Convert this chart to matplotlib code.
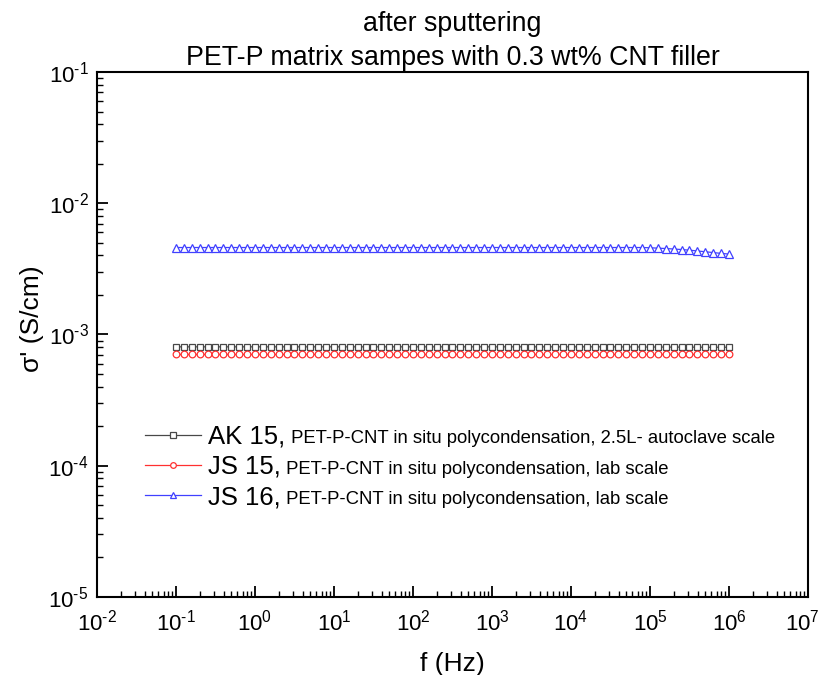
import numpy as np
import matplotlib
matplotlib.use("Agg")
import matplotlib.pyplot as plt
from matplotlib.ticker import LogLocator, FixedLocator, FuncFormatter, NullFormatter
from matplotlib.transforms import ScaledTranslation

plt.rcParams["font.family"] = ["Liberation Sans", "DejaVu Sans"]
plt.rcParams["mathtext.fontset"] = "custom"
plt.rcParams["mathtext.rm"] = "Liberation Sans"
plt.rcParams["mathtext.it"] = "Liberation Sans:italic"
plt.rcParams["mathtext.bf"] = "Liberation Sans:bold"

# measurement frequencies (Hz), 10 points per decade
freq = [
    0.1, 0.126, 0.158, 0.2, 0.251, 0.316, 0.398, 0.501, 0.631, 0.794,
    1.0, 1.26, 1.58, 2.0, 2.51, 3.16, 3.98, 5.01, 6.31, 7.94,
    10.0, 12.6, 15.8, 20.0, 25.1, 31.6, 39.8, 50.1, 63.1, 79.4,
    100.0, 126.0, 158.0, 200.0, 251.0, 316.0, 398.0, 501.0, 631.0, 794.0,
    1e3, 1.26e3, 1.58e3, 2.0e3, 2.51e3, 3.16e3, 3.98e3, 5.01e3, 6.31e3, 7.94e3,
    1e4, 1.26e4, 1.58e4, 2.0e4, 2.51e4, 3.16e4, 3.98e4, 5.01e4, 6.31e4, 7.94e4,
    1e5, 1.26e5, 1.58e5, 2.0e5, 2.51e5, 3.16e5, 3.98e5, 5.01e5, 6.31e5, 7.94e5,
    1e6,
]

# real part of conductivity (S/cm)
sigma_ak15 = [
    8.05e-4, 8.05e-4, 8.05e-4, 8.05e-4, 8.05e-4, 8.05e-4, 8.05e-4, 8.05e-4, 8.05e-4, 8.05e-4,
    8.05e-4, 8.05e-4, 8.05e-4, 8.05e-4, 8.05e-4, 8.05e-4, 8.05e-4, 8.05e-4, 8.05e-4, 8.05e-4,
    8.05e-4, 8.05e-4, 8.05e-4, 8.05e-4, 8.05e-4, 8.05e-4, 8.05e-4, 8.05e-4, 8.05e-4, 8.05e-4,
    8.05e-4, 8.05e-4, 8.05e-4, 8.05e-4, 8.05e-4, 8.05e-4, 8.05e-4, 8.05e-4, 8.05e-4, 8.05e-4,
    8.05e-4, 8.05e-4, 8.05e-4, 8.05e-4, 8.05e-4, 8.05e-4, 8.05e-4, 8.05e-4, 8.05e-4, 8.05e-4,
    8.05e-4, 8.05e-4, 8.05e-4, 8.05e-4, 8.05e-4, 8.05e-4, 8.04e-4, 8.04e-4, 8.04e-4, 8.03e-4,
    8.03e-4, 8.03e-4, 8.02e-4, 8.02e-4, 8.02e-4, 8.01e-4, 8.01e-4, 8.0e-4, 8.0e-4, 8.0e-4,
    8.0e-4,
]
sigma_js15 = [
    7.1e-4, 7.1e-4, 7.1e-4, 7.1e-4, 7.1e-4, 7.1e-4, 7.1e-4, 7.1e-4, 7.1e-4, 7.1e-4,
    7.1e-4, 7.1e-4, 7.1e-4, 7.1e-4, 7.1e-4, 7.1e-4, 7.1e-4, 7.1e-4, 7.1e-4, 7.1e-4,
    7.1e-4, 7.1e-4, 7.1e-4, 7.1e-4, 7.1e-4, 7.1e-4, 7.1e-4, 7.1e-4, 7.1e-4, 7.1e-4,
    7.1e-4, 7.1e-4, 7.1e-4, 7.1e-4, 7.1e-4, 7.1e-4, 7.1e-4, 7.1e-4, 7.1e-4, 7.1e-4,
    7.1e-4, 7.1e-4, 7.1e-4, 7.1e-4, 7.1e-4, 7.1e-4, 7.1e-4, 7.1e-4, 7.1e-4, 7.1e-4,
    7.1e-4, 7.1e-4, 7.1e-4, 7.1e-4, 7.1e-4, 7.1e-4, 7.1e-4, 7.1e-4, 7.1e-4, 7.1e-4,
    7.1e-4, 7.1e-4, 7.1e-4, 7.1e-4, 7.1e-4, 7.1e-4, 7.1e-4, 7.1e-4, 7.1e-4, 7.1e-4,
    7.1e-4,
]
sigma_js16 = [
    4.6e-3, 4.6e-3, 4.6e-3, 4.6e-3, 4.6e-3, 4.6e-3, 4.6e-3, 4.6e-3, 4.6e-3, 4.6e-3,
    4.6e-3, 4.6e-3, 4.6e-3, 4.6e-3, 4.6e-3, 4.6e-3, 4.6e-3, 4.6e-3, 4.6e-3, 4.6e-3,
    4.6e-3, 4.6e-3, 4.6e-3, 4.6e-3, 4.6e-3, 4.6e-3, 4.6e-3, 4.6e-3, 4.6e-3, 4.6e-3,
    4.6e-3, 4.6e-3, 4.6e-3, 4.6e-3, 4.6e-3, 4.6e-3, 4.6e-3, 4.6e-3, 4.6e-3, 4.6e-3,
    4.6e-3, 4.6e-3, 4.6e-3, 4.6e-3, 4.6e-3, 4.6e-3, 4.6e-3, 4.6e-3, 4.6e-3, 4.6e-3,
    4.6e-3, 4.6e-3, 4.6e-3, 4.6e-3, 4.6e-3, 4.6e-3, 4.6e-3, 4.6e-3, 4.6e-3, 4.6e-3,
    4.58e-3, 4.55e-3, 4.52e-3, 4.48e-3, 4.44e-3, 4.39e-3, 4.33e-3, 4.27e-3, 4.21e-3, 4.15e-3,
    4.1e-3,
]

x_ticks = [1e-2, 1e-1, 1e0, 1e1, 1e2, 1e3, 1e4, 1e5, 1e6, 1e7]
y_ticks = [1e-5, 1e-4, 1e-3, 1e-2, 1e-1]

series_names = ["AK 15,", "JS 15,", "JS 16,"]
series_notes = [
    " PET-P-CNT in situ polycondensation, 2.5L- autoclave scale",
    " PET-P-CNT in situ polycondensation, lab scale",
    " PET-P-CNT in situ polycondensation, lab scale",
]
series_colors = ["#484848", "#ff3030", "#4040ff"]
series_markers = ["s", "o", "^"]
series_msize = [4.6, 4.8, 5.6]
series_values = [sigma_ak15, sigma_js15, sigma_js16]

fig = plt.figure(figsize=(8.19, 6.75), dpi=100)
ax = fig.add_axes([0.1184, 0.1156, 0.8682, 0.7777])

for vals, color, marker, ms, name in zip(series_values, series_colors, series_markers,
                                         series_msize, series_names):
    ax.plot(freq, vals, color=color, lw=0.9, marker=marker, ms=ms,
            mfc="white", mec=color, mew=0.9, label=name)

ax.set_xscale("log")
ax.set_yscale("log")
ax.set_xlim(1e-2, 1e7)
ax.set_ylim(1e-5, 1e-1)


def decade_label(v, pos):
    n = int(round(np.log10(v)))
    exp = str(n).replace("-", "\u2010")
    return r"$10^{%s}$" % exp


for axis, ticks in ((ax.xaxis, x_ticks), (ax.yaxis, y_ticks)):
    axis.set_major_locator(FixedLocator(ticks))
    axis.set_minor_locator(LogLocator(base=10, subs=np.arange(2, 10), numticks=20))
    axis.set_major_formatter(FuncFormatter(decade_label))
    axis.set_minor_formatter(NullFormatter())

ax.tick_params(which="both", direction="in", top=False, right=False, labelsize=16)
ax.tick_params(which="major", length=8, width=1.3)
ax.tick_params(which="minor", length=4, width=1.0)
ax.tick_params(axis="x", which="major", pad=9)
ax.tick_params(axis="y", which="major", pad=6)
for sp in ax.spines.values():
    sp.set_linewidth(1.5)

ax.set_xlabel("f (Hz)", fontsize=19, labelpad=12)
ax.set_ylabel("σ' (S/cm)", fontsize=19)
ax.yaxis.set_label_coords(-0.074, 0.53)
ax.set_title("after sputtering\nPET-P matrix sampes with 0.3 wt% CNT filler",
             fontsize=19.3, pad=5, linespacing=1.4)

leg = ax.legend(loc="center left", bbox_to_anchor=(0.0675, 0.2476), frameon=False,
                fontsize=18.5, handlelength=2.2, handletextpad=0.27, labelspacing=0.24,
                borderaxespad=0, borderpad=0)
for h, ms in zip(leg.legend_handles, series_msize):
    h.set_markersize(ms * 0.85)

for txt, note in zip(leg.get_texts(), series_notes):
    ax.annotate(note, xy=(1, 0), xycoords=txt, xytext=(0, 1),
                textcoords="offset points", fontsize=13.3, ha="left", va="bottom",
                zorder=10)

# keep the rightmost decade label inside the canvas
fig.canvas.draw()
last_label = ax.xaxis.get_major_ticks()[-1].label1
last_label.set_transform(last_label.get_transform()
                         + ScaledTranslation(-4 / 72, 0, fig.dpi_scale_trans))

fig.savefig("out.png", dpi=100, facecolor="white")
